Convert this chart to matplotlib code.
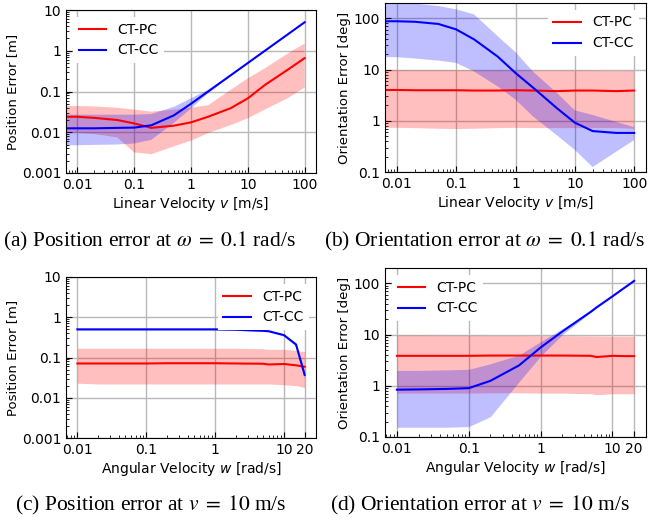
import matplotlib
matplotlib.use("Agg")
import matplotlib.pyplot as plt

plt.rcParams['mathtext.fontset'] = 'stix'

# sweep of linear velocity (first point 0 is clipped on the log axis)
v_lin = [0, 0.01, 0.02, 0.05, 0.1, 0.2, 0.5, 1, 2, 5, 10, 20, 50, 100]
# sweep of angular velocity
w_ang = [0.01, 0.02, 0.05, 0.1, 0.2, 0.5, 1, 2, 5, 6, 10, 15, 20]

# (a) position error, w = 0.1 rad/s
a_pc = [0.024, 0.024, 0.0225, 0.020, 0.0165, 0.0128, 0.0145, 0.0175, 0.024, 0.039, 0.068, 0.145, 0.34, 0.66]
a_pc_hi = [0.044, 0.044, 0.043, 0.040, 0.036, 0.032, 0.036, 0.040, 0.046, 0.11, 0.21, 0.37, 0.85, 1.5]
a_pc_lo = [0.0095, 0.0095, 0.009, 0.0075, 0.0032, 0.0029, 0.0045, 0.0062, 0.0095, 0.015, 0.022, 0.036, 0.068, 0.125]
a_cc = [0.0125, 0.0125, 0.0125, 0.0128, 0.013, 0.0148, 0.026, 0.05, 0.1, 0.25, 0.5, 1.0, 2.5, 5.0]
a_cc_hi = [0.027, 0.027, 0.027, 0.027, 0.027, 0.028, 0.042, 0.068, 0.11, 0.26, 0.51, 1.02, 2.55, 5.1]
a_cc_lo = [0.0048, 0.0048, 0.0049, 0.005, 0.0053, 0.0065, 0.017, 0.038, 0.09, 0.24, 0.49, 0.98, 2.45, 4.9]

# (b) orientation error, w = 0.1 rad/s
b_pc = [4.0, 4.0, 3.95, 3.95, 3.95, 3.9, 3.9, 3.95, 3.9, 3.8, 3.9, 3.9, 3.8, 3.9]
b_pc_hi = [9.8, 9.8, 9.7, 9.7, 9.7, 9.6, 9.6, 9.6, 9.5, 9.5, 9.6, 9.5, 9.4, 9.5]
b_pc_lo = [0.73, 0.73, 0.72, 0.70, 0.69, 0.70, 0.72, 0.73, 0.72, 0.72, 0.72, 0.72, 0.72, 0.70]
b_cc = [88, 88, 86, 78, 61, 39, 18, 8.6, 4.4, 1.76, 0.92, 0.63, 0.58, 0.58]
b_cc_hi = [210, 205, 195, 175, 150, 120, 45, 22, 9, 3.5, 1.6, 1.3, 0.95, 0.75]
b_cc_lo = [17.5, 17.5, 16.5, 15, 13.5, 9.2, 4.7, 2.6, 1.2, 0.52, 0.27, 0.125, 0.25, 0.42]

# (c) position error, v = 10 m/s
c_pc = [0.071, 0.071, 0.071, 0.071, 0.072, 0.072, 0.072, 0.071, 0.070, 0.067, 0.069, 0.064, 0.059]
c_pc_hi = [0.17, 0.17, 0.17, 0.17, 0.17, 0.17, 0.17, 0.17, 0.165, 0.16, 0.16, 0.15, 0.14]
c_pc_lo = [0.023, 0.022, 0.022, 0.022, 0.022, 0.022, 0.022, 0.022, 0.022, 0.022, 0.021, 0.020, 0.018]
c_cc = [0.5, 0.5, 0.5, 0.5, 0.5, 0.5, 0.5, 0.49, 0.46, 0.45, 0.36, 0.21, 0.037]
c_cc_hi = [0.52, 0.52, 0.52, 0.52, 0.52, 0.52, 0.52, 0.51, 0.48, 0.47, 0.38, 0.23, 0.045]
c_cc_lo = [0.48, 0.48, 0.48, 0.48, 0.48, 0.48, 0.48, 0.47, 0.44, 0.43, 0.34, 0.19, 0.03]

# (d) orientation error, v = 10 m/s
d_pc = [3.85, 3.85, 3.85, 3.85, 3.9, 3.9, 3.9, 3.9, 3.85, 3.65, 3.85, 3.8, 3.8]
d_pc_hi = [9.8, 9.8, 9.7, 9.7, 9.6, 9.6, 9.5, 9.5, 9.4, 9.4, 9.3, 9.3, 9.3]
d_pc_lo = [0.72, 0.72, 0.72, 0.72, 0.73, 0.73, 0.72, 0.72, 0.70, 0.67, 0.70, 0.70, 0.70]
d_cc = [0.84, 0.85, 0.87, 0.9, 1.25, 2.5, 5.6, 11.5, 28, 34, 56, 84, 112]
d_cc_hi = [2.0, 2.0, 2.05, 2.1, 2.7, 4.0, 7.3, 13, 29, 35, 57, 85, 114]
d_cc_lo = [0.155, 0.155, 0.155, 0.16, 0.25, 1.2, 3.8, 10, 27, 33, 55, 83, 110]

lin_ticks = [0.01, 0.1, 1, 10, 100]
lin_labels = ['0.01', '0.1', '1', '10', '100']
ang_ticks = [0.01, 0.1, 1, 10, 20]
ang_labels = ['0.01', '0.1', '1', '10', '20']
pos_ticks = [0.001, 0.01, 0.1, 1, 10]
pos_labels = ['0.001', '0.01', '0.1', '1', '10']
ori_ticks = [0.1, 1, 10, 100]
ori_labels = ['0.1', '1', '10', '100']

W, H = 650, 521
fig = plt.figure(figsize=(6.5, 5.21), dpi=100)


def make_ax(left, top, right, bottom):
    return fig.add_axes([left / W, 1 - bottom / H, (right - left) / W, (bottom - top) / H])


def panel(ax, x, pc, pc_lo, pc_hi, cc, cc_lo, cc_hi, xt, xl, yt, yl, ylim, xlabel, ylabel, loc):
    ax.set_xscale('log')
    ax.set_yscale('log')
    ax.fill_between(x, pc_lo, pc_hi, color='r', alpha=0.25, lw=0)
    ax.fill_between(x, cc_lo, cc_hi, color='b', alpha=0.25, lw=0)
    ax.plot(x, pc, color='r', lw=1.5, label='CT-PC')
    ax.plot(x, cc, color='b', lw=1.5, label='CT-CC')
    ax.set_xticks(xt)
    ax.set_xticklabels(xl)
    ax.set_yticks(yt)
    ax.set_yticklabels(yl)
    ax.set_ylim(ylim)
    ax.grid(True, which='major', color='0.72', lw=1.0)
    ax.set_axisbelow(True)
    ax.tick_params(which='both', direction='in', labelsize=10)
    ax.tick_params(which='major', length=4)
    ax.tick_params(which='minor', length=2)
    ax.set_xlabel(xlabel, fontsize=10, labelpad=2, math_fontfamily='dejavusans')
    ax.set_ylabel(ylabel, fontsize=9.5, labelpad=2)
    leg = ax.legend(loc=loc, fontsize=10, fancybox=False, framealpha=1.0)
    leg.get_frame().set_edgecolor('none')


ax_a = make_ax(66, 10, 316, 173)
panel(ax_a, v_lin, a_pc, a_pc_lo, a_pc_hi, a_cc, a_cc_lo, a_cc_hi,
      lin_ticks, lin_labels, pos_ticks, pos_labels, (0.001, 10),
      'Linear Velocity $v$ [m/s]', 'Position Error [m]', 'upper left')

ax_b = make_ax(385, 3, 646, 172)
panel(ax_b, v_lin, b_pc, b_pc_lo, b_pc_hi, b_cc, b_cc_lo, b_cc_hi,
      lin_ticks, lin_labels, ori_ticks, ori_labels, (0.1, 200),
      'Linear Velocity $v$ [m/s]', 'Orientation Error [deg]', 'upper right')

ax_c = make_ax(66, 277, 316, 438)
panel(ax_c, w_ang, c_pc, c_pc_lo, c_pc_hi, c_cc, c_cc_lo, c_cc_hi,
      ang_ticks, ang_labels, pos_ticks, pos_labels, (0.001, 10),
      'Angular Velocity $w$ [rad/s]', 'Position Error [m]', 'upper right')

ax_d = make_ax(385, 268, 646, 437)
panel(ax_d, w_ang, d_pc, d_pc_lo, d_pc_hi, d_cc, d_cc_lo, d_cc_hi,
      ang_ticks, ang_labels, ori_ticks, ori_labels, (0.1, 200),
      'Angular Velocity $w$ [rad/s]', 'Orientation Error [deg]', 'upper left')

cap = dict(family='Liberation Serif', fontsize=15.5, va='center', ha='left')
fig.text(3 / W, 1 - 241 / H, r'(a) Position error at $\omega\;=\;0.1$ rad/s', **cap)
fig.text(324 / W, 1 - 241 / H, r'(b) Orientation error at $\omega\;=\;0.1$ rad/s', **cap)
fig.text(15 / W, 1 - 505 / H, r'(c) Position error at $v\;=\;10$ m/s', **cap)
fig.text(330 / W, 1 - 505 / H, r'(d) Orientation error at $v\;=\;10$ m/s', **cap)

fig.savefig('out.png', dpi=100)
